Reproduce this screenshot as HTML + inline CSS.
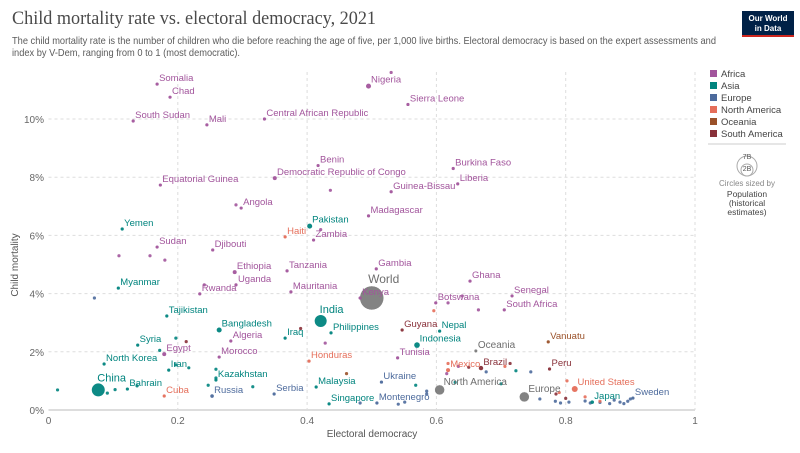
<!DOCTYPE html>
<html><head><meta charset="utf-8"><style>
body{margin:0;background:#fff;width:800px;height:448px;overflow:hidden;font-family:"Liberation Sans",sans-serif}
</style></head><body>
<svg id="c" width="800" height="448" xmlns="http://www.w3.org/2000/svg" font-family="Liberation Sans, sans-serif">
<text x="12" y="24" font-family="Liberation Serif, serif" font-size="19" fill="#4a4a4a" textLength="364" lengthAdjust="spacingAndGlyphs">Child mortality rate vs. electoral democracy, 2021</text>
<text x="12" y="44" font-size="10.5" fill="#5b5b5b" textLength="704" lengthAdjust="spacingAndGlyphs">The child mortality rate is the number of children who die before reaching the age of five, per 1,000 live births. Electoral democracy is based on the expert assessments and</text>
<text x="12" y="56" font-size="10.5" fill="#5b5b5b" textLength="228" lengthAdjust="spacingAndGlyphs">index by V-Dem, ranging from 0 to 1 (most democratic).</text>
<g>
<rect x="742" y="11" width="52" height="26" fill="#002147"/>
<rect x="742" y="35" width="52" height="2" fill="#ce261e"/>
<text x="768" y="21" font-size="8" fill="#fff" text-anchor="middle" font-weight="bold">Our World</text>
<text x="768" y="31" font-size="8" fill="#fff" text-anchor="middle" font-weight="bold">in Data</text>
</g>
<g id="grid"></g>
<g id="pts"></g>
<text x="18" y="265" font-size="10" fill="#555" transform="rotate(-90 18 265)" text-anchor="middle">Child mortality</text>
<text x="372" y="437" font-size="10" fill="#555" text-anchor="middle">Electoral democracy</text>
<g id="legend"></g>
<g>
<circle cx="747" cy="166" r="10" fill="none" stroke="#aaa"/>
<circle cx="747" cy="170" r="6" fill="none" stroke="#aaa"/>
<text x="747" y="159" font-size="7" fill="#555" text-anchor="middle">7B</text>
<text x="747" y="171" font-size="7" fill="#555" text-anchor="middle">2B</text>
<text x="747" y="186" font-size="8" fill="#888" text-anchor="middle">Circles sized by</text>
<text x="747" y="197" font-size="8.5" fill="#444" text-anchor="middle">Population</text>
<text x="747" y="206" font-size="8.5" fill="#444" text-anchor="middle">(historical</text>
<text x="747" y="215" font-size="8.5" fill="#444" text-anchor="middle">estimates)</text>
</g>
</svg>
<script>
const xTicks=[0,0.2,0.4,0.6,0.8,1];
const xTickLabels=["0","0.2","0.4","0.6","0.8","1"];
const yTicks=[0,2,4,6,8,10];
const yTickLabels=["0%","2%","4%","6%","8%","10%"];
const regionNames=["Africa","Asia","Europe","North America","Oceania","South America"];
const regionColors=["#a2559c","#00847e","#4c6a9c","#e56e5a","#9a5129","#883039"];
const countryNames=["World","Oceania","North America","Europe","Nigeria","Somalia","Chad","South Sudan","Mali","Central African Republic","Sierra Leone","Benin","Democratic Republic of Congo","Burkina Faso","Equatorial Guinea","Liberia","Guinea-Bissau","Angola","Madagascar","Zambia","Sudan","Djibouti","Ethiopia","Tanzania","Gambia","Uganda","Rwanda","Mauritania","Ghana","Senegal","Kenya","Botswana","South Africa","Algeria","Egypt","Morocco","Tunisia",
"Yemen","Pakistan","Myanmar","Tajikistan","Bangladesh","India","Iraq","Philippines","Syria","Nepal","Indonesia","North Korea","Iran","Kazakhstan","China","Bahrain","Malaysia","Singapore","Japan",
"Russia","Serbia","Ukraine","Montenegro","Sweden","Haiti","Honduras","Cuba","Mexico","United States","Vanuatu","Guyana","Brazil","Peru"];
const democracyValues=[0.5,0.661,0.605,0.736,0.495,0.168,0.188,0.131,0.245,0.334,0.556,0.417,0.35,0.626,0.173,0.633,0.53,0.298,0.495,0.41,0.168,0.254,0.288,0.369,0.507,0.29,0.234,0.375,0.652,0.717,0.482,0.599,0.705,0.282,0.179,0.264,0.54,
0.114,0.404,0.108,0.183,0.264,0.421,0.366,0.437,0.138,0.605,0.57,0.086,0.186,0.259,0.077,0.122,0.414,0.434,0.841,
0.253,0.349,0.515,0.508,0.904,0.366,0.403,0.179,0.618,0.814,0.773,0.547,0.669,0.775];
const mortalityValues=[3.85,2.03,0.69,0.45,11.13,11.2,10.75,9.93,9.8,10.0,10.5,8.4,7.97,8.3,7.73,7.77,7.5,6.94,6.67,5.84,5.6,5.5,4.74,4.78,4.85,4.3,3.99,4.06,4.43,3.92,3.85,3.68,3.44,2.37,1.92,1.82,1.79,
6.22,6.32,4.19,3.23,2.75,3.06,2.47,2.65,2.23,2.71,2.23,1.58,1.37,1.03,0.69,0.72,0.79,0.21,0.27,
0.48,0.55,0.96,0.24,0.41,5.95,1.68,0.48,1.37,0.72,2.34,2.75,1.44,1.41];
const countryRegions=[-1,-1,-1,-1,0,0,0,0,0,0,0,0,0,0,0,0,0,0,0,0,0,0,0,0,0,0,0,0,0,0,0,0,0,0,0,0,0,
1,1,1,1,1,1,1,1,1,1,1,1,1,1,1,1,1,1,1,
2,2,2,2,2,3,3,3,3,3,4,5,5,5];
const populationSizes=[12,1.8,5,5,2.5,1.6,1.6,1.6,1.6,1.6,1.6,1.6,2,1.6,1.6,1.6,1.6,1.6,1.6,1.6,1.6,1.6,2,1.6,1.6,1.6,1.6,1.6,1.6,1.6,1.6,1.6,1.6,1.6,2,1.6,1.6,
1.6,2.5,1.6,1.6,2.5,6,1.6,1.6,1.6,1.6,2.8,1.6,1.6,1.6,6.5,1.6,1.6,1.6,1.8,
1.8,1.6,1.6,1.6,1.6,1.6,1.6,1.6,2,3,1.6,1.6,2.2,1.6];
const extraX=[0.53,0.436,0.29,0.421,0.109,0.157,0.18,0.241,0.64,0.618,0.665,0.071,0.428,0.39,
0.197,0.172,0.197,0.217,0.259,0.259,0.316,0.247,0.137,0.103,0.091,0.014,0.629,0.568,0.723,0.7,
0.76,0.784,0.792,0.805,0.83,0.838,0.853,0.868,0.875,0.884,0.896,0.9,0.89,0.677,0.746,0.551,0.585,0.585,0.541,0.482,
0.65,0.714,0.634,0.616,0.785,0.8,
0.596,0.618,0.706,0.802,0.79,0.83,0.853,0.461,0.213];
const extraY=[11.6,7.55,7.05,6.2,5.3,5.3,5.15,4.3,3.92,3.68,3.44,3.85,2.3,2.8,
2.47,2.05,1.55,1.45,1.4,1.1,0.8,0.85,0.83,0.7,0.58,0.69,0.95,0.85,1.35,0.9,
0.38,0.3,0.24,0.27,0.31,0.24,0.26,0.22,0.34,0.27,0.3,0.38,0.22,1.31,1.31,0.27,0.55,0.65,0.2,0.24,
1.47,1.6,1.5,1.25,0.55,0.4,
3.41,1.6,1.5,1.0,0.6,0.45,0.3,1.25,2.35];
const extraRegion=[0,0,0,0,0,0,0,0,0,0,0,2,0,5,
1,1,1,1,1,1,1,1,1,1,1,1,1,1,1,1,
2,2,2,2,2,2,2,2,2,2,2,2,2,2,2,2,2,2,2,2,
5,5,0,0,5,5,
3,3,3,3,3,3,3,4,5];

const NS="http://www.w3.org/2000/svg";
const X0=48.5,X1=695,Y0=410,YPER=29.1;
function sx(v){return X0+v*(X1-X0);}
function sy(v){return Y0-v*YPER;}
function mk(tag,attrs,parent,text){const e=document.createElementNS(NS,tag);for(const k in attrs)e.setAttribute(k,attrs[k]);if(text!==undefined)e.textContent=text;parent.appendChild(e);return e;}
const grid=document.getElementById('grid');
yTicks.forEach((t,i)=>{
  const l=mk('line',{x1:X0,x2:X1,y1:sy(t),y2:sy(t),stroke:t===0?'#bbb':'#ddd','stroke-dasharray':t===0?'':'3,3'},grid);
  
  
  const tx=mk('text',{x:44,y:sy(t)+4,'font-size':10,fill:'#666','text-anchor':'end'},grid,yTickLabels[i]);
  
  
});
xTicks.forEach((t,i)=>{
  if(t>0){const l=mk('line',{x1:sx(t),x2:sx(t),y1:72,y2:Y0,stroke:'#ddd','stroke-dasharray':'3,3'},grid);
  
  }
  const tx=mk('text',{x:sx(t),y:424,'font-size':10,fill:'#666','text-anchor':'middle'},grid,xTickLabels[i]);
  
  
});
const pts=document.getElementById('pts');
extraX.forEach((v,i)=>{
  const c=mk('circle',{cx:sx(v),cy:sy(extraY[i]),r:1.6,fill:regionColors[extraRegion[i]],opacity:0.9},pts);
  
  
});
countryNames.forEach((n,i)=>{
  const reg=countryRegions[i];
  const col=reg<0?'#6e6e6e':regionColors[reg];
  const cx=sx(democracyValues[i]),cy=sy(mortalityValues[i]),r=populationSizes[i];
  const c=mk('circle',{cx:cx,cy:cy,r:r,fill:col,opacity:reg<0?0.85:0.95,stroke:reg<0?'#fff':'none','stroke-width':0.5},pts);
  
  
  let lx=cx+r*0.6+1,ly=cy-r*0.6-2,fs=reg<0?10:9.5;
  if(n==='World'){lx=cx-r*0.3;ly=cy-r-3;fs=12;}
  if(n==='India'||n==='China'){lx=cx-1;ly=cy-r-2;fs=11;}
  const t=mk('text',{x:lx,y:ly,'font-size':fs,fill:col},pts,n);
  
  
});
const lg=document.getElementById('legend');
regionNames.forEach((n,i)=>{
  const g=mk('g',{},lg);
  
  
  mk('rect',{x:710,y:70+i*12,width:7,height:7,fill:regionColors[i]},g);
  mk('text',{x:721,y:77+i*12,'font-size':9.5,fill:'#444'},g,n);
});
const sep=mk('line',{x1:708,x2:786,y1:144,y2:144,stroke:'#ccc'},lg);


</script>
</body></html>
